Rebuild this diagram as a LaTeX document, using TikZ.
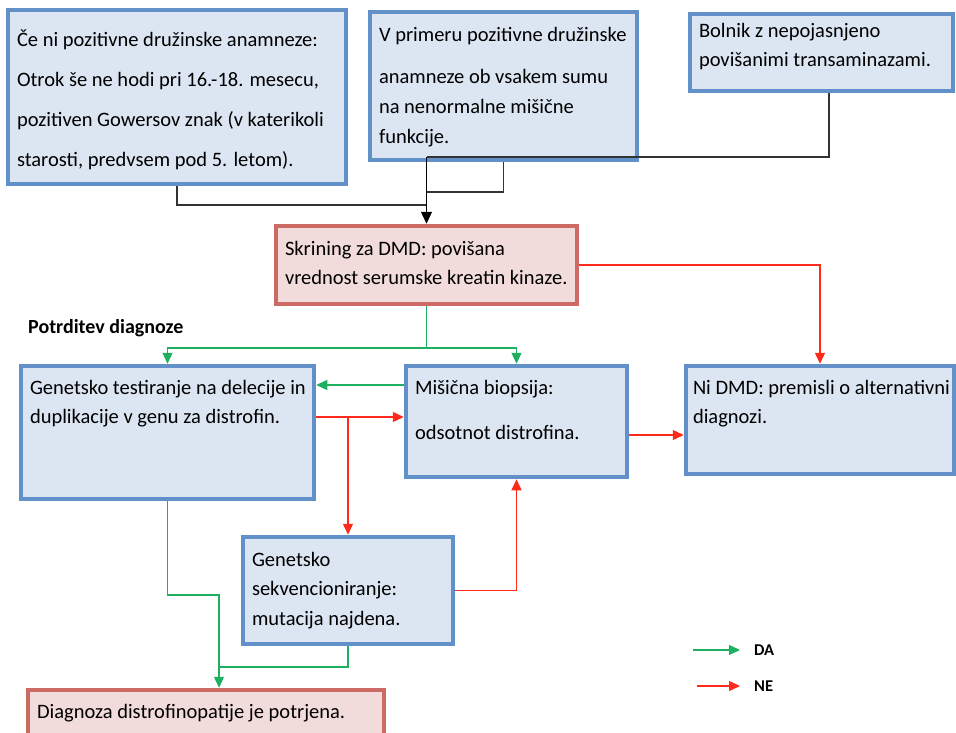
\documentclass[tikz,border=0pt]{standalone}
\usepackage{fontspec}
\setmainfont{Carlito}
\usetikzlibrary{arrows.meta}
\definecolor{bbord}{HTML}{6290C8}
\definecolor{bfill}{HTML}{DCE6F2}
\definecolor{rbord}{HTML}{CD6A66}
\definecolor{rfill}{HTML}{F2DCDB}
\definecolor{grn}{HTML}{1DB060}
\definecolor{rd}{HTML}{FF2A1A}
\definecolor{blk}{HTML}{333333}
\newcommand{\bxt}[5]{\parbox[c][#2pt][t]{\dimexpr#1pt-18pt\relax}{\fontsize{20.5}{#3}\selectfont\raggedright\rule{0pt}{#4pt}#5}}
\tikzset{
  bluebox/.style={draw=bbord, fill=bfill, line width=4.5pt, inner sep=0pt, rectangle},
  redbox/.style={draw=rbord, fill=rfill, line width=4.5pt, inner sep=0pt, rectangle},
  blkline/.style={draw=blk, line width=1.3pt},
  blkarrow/.style={blkline, -{Triangle[length=12pt,width=11pt]}, color=black},
  grline/.style={draw=grn, line width=1.3pt},
  grarrow/.style={grline, -{Triangle[length=11pt,width=10pt]}},
  rdline/.style={draw=rd, line width=1.3pt},
  rdarrow/.style={rdline, -{Triangle[length=11pt,width=10pt]}},
  lbl/.style={font=\fontsize{16.5}{18}\selectfont\bfseries, inner sep=0pt},
  heading/.style={font=\fontsize{20}{22}\selectfont\bfseries, inner sep=0pt}
}
\begin{document}
\begin{tikzpicture}[x=1pt,y=-1pt]
\useasboundingbox (0,0) rectangle (956,733);
\clip (0,0) rectangle (956,733);

\node[bluebox, minimum width=338pt, minimum height=174pt] (b1) at (177,97)
  {\bxt{338}{174}{40}{37}{Če ni pozitivne družinske anamneze:\\ Otrok še ne hodi pri 16.-18. mesecu,\\ pozitiven Gowersov znak (v katerikoli\\ starosti, predvsem pod 5. letom).}};
\node[bluebox, minimum width=267pt, minimum height=148pt] (b2) at (503.5,86)
  {\bxt{267}{148}{30}{30}{V primeru pozitivne družinske\\[12pt] anamneze ob vsakem sumu\\ na nenormalne mišične\\ funkcije.}};
\node[bluebox, minimum width=263pt, minimum height=77pt] (b3) at (821.5,52.5)
  {\bxt{263}{77}{29}{24}{Bolnik z nepojasnjeno\\ povišanimi transaminazami.}};
\node[redbox, minimum width=301pt, minimum height=78pt] (sk) at (426.5,265)
  {\bxt{301}{78}{29}{29}{Skrining za DMD: povišana\\ vrednost serumske kreatin kinaze.}};
\node[heading, anchor=base west] (pd) at (28,333) {Potrditev diagnoze};
\node[bluebox, minimum width=293pt, minimum height=133pt] (gt) at (167.5,432.5)
  {\bxt{293}{133}{29}{28}{\mbox{Genetsko testiranje na delecije in}\\ duplikacije v genu za distrofin.}};
\node[bluebox, minimum width=221pt, minimum height=111pt] (mb) at (516.5,421.5)
  {\bxt{221}{111}{45}{28}{Mišična biopsija:\\ odsotnot distrofina.}};
\node[bluebox, minimum width=268pt, minimum height=108pt] (ni) at (820,420)
  {\bxt{268}{108}{29}{28}{\hspace*{-2pt}\mbox{Ni DMD: premisli o alternativni}\\ \hspace*{-2pt}diagnozi.}};
\node[bluebox, minimum width=210pt, minimum height=107pt] (gs) at (348,590.5)
  {\bxt{210}{107}{29.5}{29}{Genetsko\\ sekvencioniranje:\\ mutacija najdena.}};
\node[redbox, minimum width=356pt, minimum height=48pt] (dg) at (206,714)
  {\bxt{356}{48}{29}{28}{Diagnoza distrofinopatije je potrjena.}};
\node[lbl, anchor=west] (da) at (754,650) {DA};
\node[lbl, anchor=west] (ne) at (754,686) {NE};

% black connectors
\draw[blkline] (b1.south) |- (sk.north |- 0,205);
\draw[blkline] (b2.south) |- (sk.north |- 0,192);
\draw[blkline] ([xshift=7.5pt]b3.south) |- (sk.north |- 0,157);
\draw[blkarrow] (sk.north |- 0,157) -- (sk.north);

% green connectors
\draw[grline] (sk.south) -- (sk.south |- 0,348) coordinate (gsplit);
\draw[grarrow] (gsplit) -| (gt.north);
\draw[grarrow] (gsplit) -| (mb.north);
\draw[grarrow] (mb.west |- 0,385) -- (gt.east |- 0,385);
\draw[grarrow] (gt.south) -- (gt.south |- 0,595) -| ([xshift=13pt]dg.north);
\draw[grline] (gs.south) |- ([xshift=13pt]dg.north |- 0,667);

% red connectors
\draw[rdarrow] (sk.east) -| (ni.north);
\draw[rdarrow] (gt.east |- 0,417) -- (mb.west |- 0,417);
\draw[rdarrow] (gt.east |- 0,417) -| (gs.north);
\draw[rdarrow] (mb.east |- 0,435) -- (ni.west |- 0,435);
\draw[rdarrow] (gs.east) -| (mb.south);

% legend
\draw[grarrow] ([xshift=-61pt]da.west) -- ([xshift=-14pt]da.west);
\draw[rdarrow] ([xshift=-57pt]ne.west) -- ([xshift=-14pt]ne.west);
\end{tikzpicture}
\end{document}
